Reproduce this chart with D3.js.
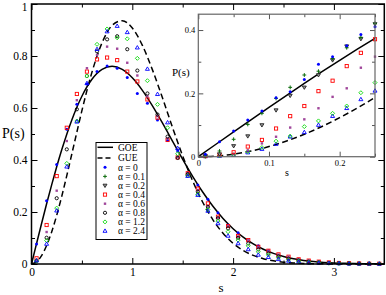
<!DOCTYPE html>
<html><head><meta charset="utf-8">
<script src="https://cdn.jsdelivr.net/npm/d3@7"></script>
<style>
body{margin:0;background:#fff}
svg{display:block}
text{font-family:"Liberation Serif","DejaVu Serif",serif;fill:#000}
</style>
</head><body>
<svg id="c" width="386" height="295"></svg>
<script>
// ---------- data ----------
const sMain = [0.05,0.15,0.25,0.35,0.45,0.55,0.65,0.75,0.85,0.95,1.05,1.15,1.25,1.35,1.45,1.55,1.65,1.75,1.85,1.95,2.05,2.15,2.25,2.35,2.45,2.55,2.65,2.75,2.85,2.95,3.05,3.15,3.25,3.35,3.45];
const mainA0  = [0.077,0.243,0.383,0.518,0.614,0.692,0.740,0.762,0.753,0.717,0.656,0.618,0.554,0.475,0.435,0.349,0.304,0.249,0.197,0.150,0.120,0.090,0.070,0.051,0.033,0.022,0.015,0.010,0.007,0.005,0.003,0.002,0.002,0.001,0.001];
const mainA04 = [0.022,0.150,0.338,0.524,0.654,0.740,0.787,0.794,0.784,0.740,0.702,0.633,0.563,0.477,0.410,0.349,0.290,0.233,0.182,0.146,0.108,0.092,0.066,0.051,0.037,0.028,0.018,0.013,0.009,0.006,0.004,0.003,0.002,0.001,0.001];
const mainA06 = [0.015,0.123,0.282,0.473,0.630,0.753,0.804,0.836,0.828,0.774,0.725,0.645,0.569,0.483,0.412,0.348,0.285,0.222,0.178,0.146,0.105,0.092,0.064,0.048,0.036,0.028,0.018,0.013,0.009,0.006,0.004,0.003,0.002,0.001,0.001];
const mainA08 = [0.012,0.101,0.253,0.441,0.595,0.723,0.818,0.864,0.876,0.826,0.744,0.656,0.575,0.490,0.408,0.345,0.278,0.220,0.176,0.137,0.101,0.079,0.056,0.041,0.029,0.020,0.013,0.009,0.006,0.004,0.003,0.002,0.001,0.001,0.0005];
const mainA12 = [0.012,0.090,0.215,0.387,0.550,0.723,0.845,0.904,0.870,0.866,0.791,0.705,0.614,0.524,0.424,0.340,0.268,0.210,0.165,0.124,0.092,0.070,0.047,0.035,0.024,0.016,0.011,0.007,0.005,0.003,0.002,0.0015,0.001,0.001,0.0005];
const mainA24 = [0.013,0.077,0.205,0.374,0.547,0.695,0.826,0.894,0.915,0.891,0.832,0.750,0.653,0.544,0.445,0.338,0.265,0.204,0.156,0.108,0.079,0.056,0.035,0.026,0.018,0.012,0.008,0.005,0.004,0.003,0.002,0.001,0.001,0.001,0.0005];

const sInset = [0.01,0.03,0.05,0.07,0.09,0.11,0.13,0.15,0.17,0.19,0.21,0.23,0.25];
const insA0  = [0.008,0.047,0.081,0.116,0.144,0.186,0.205,0.244,0.292,0.316,0.350,0.386,0.410];
const insA01 = [0.003,0.018,0.055,0.102,0.137,0.184,0.219,0.258,0.270,0.310,0.344,0.377,0.421];
const insA02 = [0.002,0.008,0.034,0.065,0.100,0.147,0.193,0.219,0.258,0.305,0.349,0.372,0.419];
const insA04 = [0.002,0.006,0.014,0.032,0.053,0.089,0.128,0.160,0.207,0.240,0.286,0.328,0.371];
const insA06 = [0.001,0.004,0.009,0.020,0.042,0.063,0.092,0.118,0.153,0.189,0.216,0.281,0.316];
const insA12 = [0.001,0.003,0.006,0.016,0.029,0.049,0.065,0.095,0.113,0.137,0.160,0.202,0.234];
const insA24 = [0.001,0.002,0.005,0.013,0.024,0.040,0.063,0.077,0.100,0.128,0.153,0.181,0.208];

// theory curves
const sCurve = [0,0.05,0.1,0.15,0.2,0.25,0.3,0.35,0.4,0.45,0.5,0.6,0.7,0.8,0.9,1.0,1.1,1.2,1.3,1.4,1.5,1.6,1.7,1.8,1.9,2.0,2.1,2.2,2.3,2.4,2.5,2.6,2.7,2.8,2.9,3.0,3.1,3.2,3.3,3.4,3.5];
const goeCurve = [0,0.0784,0.1559,0.2315,0.3045,0.3739,0.4391,0.4994,0.5541,0.6030,0.6453,0.7104,0.7483,0.7601,0.7484,0.7163,0.6680,0.6083,0.5416,0.4720,0.4025,0.3364,0.2760,0.2220,0.1753,0.1357,0.1033,0.0772,0.0567,0.0409,0.0290,0.0202,0.0138,0.0093,0.0062,0.0040,0.0026,0.0016,0.0010,0.0006,0.0004];
const gueCurve = [0,0.0081,0.0320,0.0709,0.1233,0.1870,0.2602,0.3400,0.4231,0.5070,0.5897,0.7381,0.8510,0.9180,0.9358,0.9080,0.8409,0.7466,0.6380,0.5240,0.4153,0.3185,0.2366,0.1700,0.1182,0.0796,0.0521,0.0331,0.0204,0.0122,0.0071,0.0040,0.0022,0.0012,0.0006,0.0003,0.0001,0,0,0,0];
const sCurveIn = [0,0.025,0.05,0.075,0.1,0.125,0.15,0.175,0.2,0.225,0.25];
const goeIn = [0,0.0393,0.0784,0.1173,0.1559,0.1940,0.2315,0.2684,0.3045,0.3397,0.3739];
const gueIn = [0,0.0020,0.0081,0.0181,0.0320,0.0497,0.0709,0.0955,0.1233,0.1539,0.1870];

const xTicksMain = [0,1,2,3], xMinorMain = [0.5,1.5,2.5];
const yTicksMain = [0,0.2,0.4,0.6,0.8,1], yMinorMain = [0.1,0.3,0.5,0.7,0.9];
const xTicksIn = [0,0.1,0.2], xMinorIn = [0.05,0.15,0.25];
const yTicksIn = [0,0.2,0.4], yMinorIn = [0.1,0.3];
const legendLabels = ["α = 0","α = 0.1","α = 0.2","α = 0.4","α = 0.6","α = 0.8","α = 1.2","α = 2.4"];

// ---------- markers ----------
const markers = {
  dot:   (g,cx,cy)=>g.append("circle").attr("cx",cx).attr("cy",cy).attr("r",1.5).attr("fill","#0000ff"),
  plus:  (g,cx,cy)=>g.append("path").attr("d",`M${cx-1.9},${cy}H${cx+1.9}M${cx},${cy-1.9}V${cy+1.9}`).attr("stroke","#0b6b0b").attr("stroke-width",1).attr("fill","none"),
  tdown: (g,cx,cy)=>g.append("path").attr("d",`M${cx},${cy+2}L${cx+2},${cy-1.3}L${cx-2},${cy-1.3}Z`).attr("stroke","#222").attr("stroke-width",0.9).attr("fill","#999"),
  sq:    (g,cx,cy)=>g.append("rect").attr("x",cx-1.6).attr("y",cy-1.6).attr("width",3.2).attr("height",3.2).attr("stroke","#ff0000").attr("stroke-width",0.9).attr("fill","none"),
  msq:   (g,cx,cy)=>g.append("rect").attr("x",cx-1.2).attr("y",cy-1.2).attr("width",2.4).attr("height",2.4).attr("fill","#a0479b"),
  circ:  (g,cx,cy)=>g.append("circle").attr("cx",cx).attr("cy",cy).attr("r",1.6).attr("stroke","#000").attr("stroke-width",0.9).attr("fill","none"),
  diam:  (g,cx,cy)=>g.append("path").attr("d",`M${cx},${cy-2}L${cx+2},${cy}L${cx},${cy+2}L${cx-2},${cy}Z`).attr("stroke","#22dd22").attr("stroke-width",1).attr("fill","none"),
  tup:   (g,cx,cy)=>g.append("path").attr("d",`M${cx},${cy-2.1}L${cx+2},${cy+1.3}L${cx-2},${cy+1.3}Z`).attr("stroke","#0000ff").attr("stroke-width",0.9).attr("fill","none")
};
const legendMarkers = ["dot","plus","tdown","sq","msq","circ","diam","tup"];

const svg = d3.select("#c");

function drawAxes(g, x, y, o) {
  const mk = (axisFn, scale, ticks, size, labels) => {
    const a = axisFn(scale).tickValues(ticks).tickSize(size).tickSizeOuter(0).tickPadding(o.pad);
    if (!labels) a.tickFormat("");
    else a.tickFormat(d3.format(o.fmt));
    return a;
  };
  const [x0,x1] = x.range(), [y0,y1] = y.range();
  const layers = [
    [d3.axisBottom, x, `translate(0,${y0})`, o.xt, o.xm, true],
    [d3.axisTop, x, `translate(0,${y1})`, o.xt, o.xm, false],
    [d3.axisLeft, y, `translate(${x0},0)`, o.yt, o.ym, true],
    [d3.axisRight, y, `translate(${x1},0)`, o.yt, o.ym, false]
  ];
  const out = [];
  for (const [fn, sc, tr, maj, min, lab] of layers) {
    const gm = g.append("g").attr("transform", tr).call(mk(fn, sc, maj, -o.major, lab));
    const gn = g.append("g").attr("transform", tr).call(mk(fn, sc, min, -o.minor, false));
    for (const gg of [gm, gn]) {
      gg.select(".domain").remove();
      gg.selectAll("line").attr("stroke", o.tickColor).attr("stroke-width", o.tw);
      gg.selectAll("text").attr("font-family", "Liberation Serif, serif").attr("font-size", o.fs).attr("fill", "#000");
    }
    out.push(gm);
  }
  g.append("rect").attr("x", x0).attr("y", y1).attr("width", x1 - x0).attr("height", y0 - y1)
    .attr("fill", "none").attr("stroke", o.frame).attr("stroke-width", o.fw);
  return out;
}

// ---------- main plot ----------
const x = d3.scaleLinear().domain([0,3.5]).range([31.5,384.3]);
const y = d3.scaleLinear().domain([0,1]).range([264,4]);
const main = svg.append("g");
const line = (xs, ys, sx, sy) => d3.line().curve(d3.curveMonotoneX).x((d,i)=>sx(xs[i])).y(d=>sy(d))(ys);

main.append("path").attr("d", line(sCurve, goeCurve, x, y)).attr("fill","none").attr("stroke","#000").attr("stroke-width",1.5);
main.append("path").attr("d", line(sCurve, gueCurve, x, y)).attr("fill","none").attr("stroke","#000").attr("stroke-width",1.5).attr("stroke-dasharray","6,3.5");

const mainSeries = [[mainA0,"dot"],[mainA04,"sq"],[mainA06,"msq"],[mainA08,"circ"],[mainA12,"diam"],[mainA24,"tup"]];
for (const [vals, m] of mainSeries) {
  const g = main.append("g");
  vals.forEach((v,i)=>markers[m](g, x(sMain[i]), y(v)));
}

const mainAx = drawAxes(main, x, y, {xt:xTicksMain, xm:xMinorMain, yt:yTicksMain, ym:yMinorMain, major:6, minor:3.5, pad:4, fmt:"", fs:"11.5px", tickColor:"#000", tw:1, frame:"#000", fw:1.5});
// keep the top "1" label inside the picture
mainAx[2].selectAll(".tick").filter(d=>d===1).select("text").attr("dy","0.55em");
main.append("text").attr("x",2).attr("y",138).attr("font-size","14px").text("P(s)");
main.append("text").attr("x",221).attr("y",292).attr("text-anchor","middle").attr("font-size","13px").text("s");

// legend
const lg = svg.append("g");
lg.append("rect").attr("x",96).attr("y",142.5).attr("width",51).attr("height",97).attr("fill","#fff").attr("stroke","#000").attr("stroke-width",1);
lg.append("line").attr("x1",97.5).attr("x2",113).attr("y1",147.3).attr("y2",147.3).attr("stroke","#000").attr("stroke-width",1.5);
lg.append("line").attr("x1",97.5).attr("x2",113).attr("y1",158).attr("y2",158).attr("stroke","#000").attr("stroke-width",1.5).attr("stroke-dasharray","5,3");
lg.append("text").attr("x",118).attr("y",150.5).attr("font-size","9.5px").text("GOE");
lg.append("text").attr("x",118).attr("y",161.3).attr("font-size","9.5px").text("GUE");
legendLabels.forEach((t,i)=>{
  const yy = 167.3 + i*9.1;
  markers[legendMarkers[i]](lg, 105, yy);
  lg.append("text").attr("x",118).attr("y",yy+3.3).attr("font-size","9.5px").text(t);
});

// ---------- inset ----------
const xi = d3.scaleLinear().domain([0,0.25]).range([198.3,375]);
const yi = d3.scaleLinear().domain([0,0.45]).range([156.7,14.2]);
const ins = svg.append("g");
ins.append("rect").attr("x",198.3).attr("y",14.2).attr("width",375-198.3).attr("height",156.7-14.2).attr("fill","#fff");
ins.append("path").attr("d", line(sCurveIn, goeIn, xi, yi)).attr("fill","none").attr("stroke","#000").attr("stroke-width",1.5);
ins.append("path").attr("d", line(sCurveIn, gueIn, xi, yi)).attr("fill","none").attr("stroke","#000").attr("stroke-width",1.5).attr("stroke-dasharray","6,3.5");
const insSeries = [[insA24,"tup"],[insA12,"diam"],[insA06,"msq"],[insA04,"sq"],[insA02,"tdown"],[insA01,"plus"],[insA0,"dot"]];
for (const [vals, m] of insSeries) {
  const g = ins.append("g");
  vals.forEach((v,i)=>markers[m](g, xi(sInset[i]), yi(v)));
}
drawAxes(ins, xi, yi, {xt:xTicksIn, xm:xMinorIn, yt:yTicksIn, ym:yMinorIn, major:5, minor:3, pad:3, fmt:"", fs:"8.5px", tickColor:"#555", tw:1, frame:"#666", fw:1.2});
ins.append("text").attr("x",172).attr("y",76).attr("font-size","11px").text("P(s)");
ins.append("text").attr("x",287).attr("y",176).attr("text-anchor","middle").attr("font-size","10px").text("s");
</script>
</body></html>
